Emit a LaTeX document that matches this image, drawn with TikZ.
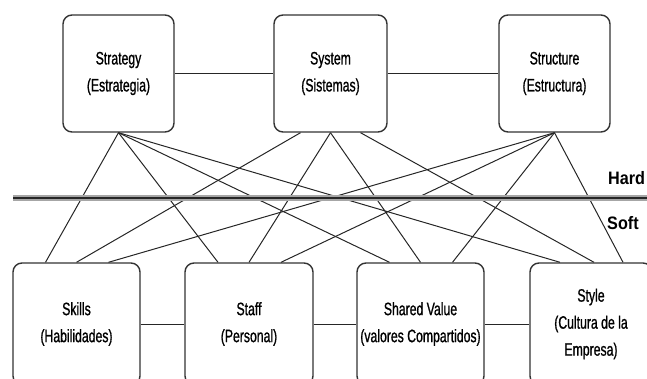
\documentclass[tikz,border=0pt]{standalone}
\usepackage{fontspec}
\setmainfont{Liberation Sans}[FakeStretch=0.68,FakeBold=0.9]
\newfontfamily\hsfont{Liberation Sans}[FakeStretch=0.9]
\usetikzlibrary{positioning}
\tikzset{
  bx/.style={draw=black!80,line width=1.4pt,rounded corners=9pt,fill=white,inner sep=0pt,align=center,font=\fontsize{18}{27}\selectfont},
  tb/.style={bx,minimum height=117pt},
  bb/.style={bx,minimum height=122pt},
  ln/.style={draw=black!85,line width=1pt},
  hs/.style={anchor=west,inner sep=0pt,font=\hsfont\bfseries\fontsize{18}{20}\selectfont},
}

\begin{document}
\begin{tikzpicture}[x=1pt,y=-1pt]
  \clip (0,0) rectangle (647,379);

  % hard S's
  \node [tb,minimum width=111pt] (strategy) at (118.5,73.5) {Strategy\\(Estrategia)};
  \node [tb,minimum width=113pt] (system) at (330.5,73.5) {System\\(Sistemas)};
  \node [tb,minimum width=111pt] (structure) at (554.5,73.5) {Structure\\(Estructura)};

  % soft S's
  \node [bb,minimum width=127pt] (skills) at (76.5,324) {Skills\\(Habilidades)};
  \node [bb,minimum width=128pt] (staff) at (249,324) {Staff\\(Personal)};
  \node [bb,minimum width=127pt] (shared) at (420.5,324) {Shared Value\\(valores Compartidos)};
  \node [bb,minimum width=122pt] (style) at (591,324) {Style\\(Cultura de la\\Empresa)};

  \draw [ln] (strategy) -- (system) -- (structure);
  \draw [ln] (skills) -- (staff) -- (shared) -- (style);

  \foreach \Soft in {skills,staff,shared,style}{
    \draw [ln] (strategy.south) -- ([xshift=-31pt]\Soft.north);
    \draw [ln] (structure.south) -- ([xshift=32pt]\Soft.north);
  }
  \draw [ln] ([xshift=-30pt]system.south) -- (skills.north);
  \draw [ln] (system.south) -- (staff.north);
  \draw [ln] (system.south) -- (shared.north);
  \draw [ln] ([xshift=30pt]system.south) -- ([xshift=3pt]style.north);

  % hard / soft border
  \coordinate (hsL) at (13,198);
  \coordinate (hsR) at (647,198);
  \draw [gray!70,line width=6pt] (hsL) -- (hsR);
  \draw [black!85,line width=2.5pt] (hsL) -- (hsR);
  \node [hs] (hard) at (608,178) {Hard};
  \node [hs] (soft) at (607,223) {Soft};
\end{tikzpicture}
\end{document}
